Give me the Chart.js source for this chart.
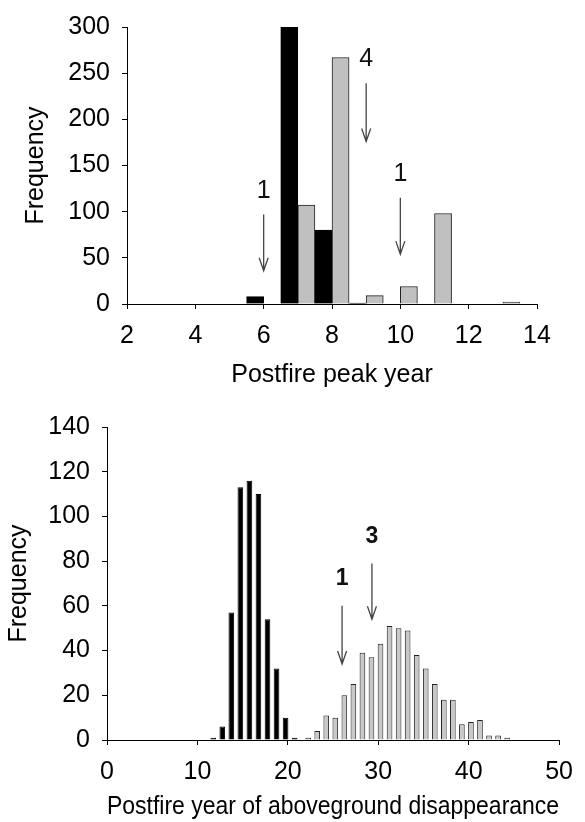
<!DOCTYPE html>
<html>
<head>
<meta charset="utf-8">
<script src="https://cdn.jsdelivr.net/npm/chart.js@4.4.1/dist/chart.umd.min.js"></script>
<style>
  body { margin: 0; background: #fff; }
  #wrap { position: relative; width: 585px; height: 822px; }
  canvas { position: absolute; left: 0; }
</style>
</head>
<body>
<div id="wrap">
  <canvas id="peak" width="585" height="400" style="top:0"></canvas>
  <canvas id="gone" width="585" height="422" style="top:400px"></canvas>
</div>
<script>
// top panel: postfire peak year
const peakYearsBlack = [6, 7, 8, 9];
const peakCountsBlack = [8, 300, 80, 1];
const peakYearsGray = [7, 8, 9, 10, 11, 13];
const peakCountsGray = [107, 267, 9, 19, 98, 2];
const peakXTicks = [2, 4, 6, 8, 10, 12, 14];
const peakYTicks = [0, 50, 100, 150, 200, 250, 300];
const peakArrowX = [6, 9, 10];
const peakArrowText = ['1', '4', '1'];
const peakArrowLabelY = [122, 265, 141];
const peakArrowFrom = [97, 239, 115];
const peakArrowTo = [36, 176, 54];

// bottom panel: postfire year of aboveground disappearance
const goneYearsBlack = [12, 13, 14, 15, 16, 17, 18, 19, 20, 21];
const goneCountsBlack = [1, 6, 57, 113, 116, 110, 54, 32, 10, 1];
const goneYearsGray = [22, 23, 24, 25, 26, 27, 28, 29, 30, 31, 32, 33,
  34, 35, 36, 37, 38, 39, 40, 41, 42, 43, 44];
const goneCountsGray = [1, 4, 11, 10, 20, 25, 39, 37, 43, 51, 50, 49,
  38, 32, 25, 18, 18, 7, 8, 9, 2, 2, 1];
const goneXTicks = [0, 10, 20, 30, 40, 50];
const goneYTicks = [0, 20, 40, 60, 80, 100, 120, 140];
const goneArrowX = [26, 29.3];
const goneArrowText = ['1', '3'];
const goneArrowLabelY = [72, 91];
const goneArrowFrom = [60, 79];
const goneArrowTo = [34, 54];

const FONT = 'Liberation Sans, Arial, sans-serif';

// vertical arrows with a number above them
const arrowPlugin = {
  id: 'arrows',
  afterDatasetsDraw(chart, args, opts) {
    const ctx = chart.ctx;
    const xs = chart.scales.x, ys = chart.scales.y;
    ctx.save();
    ctx.strokeStyle = '#444';
    ctx.fillStyle = '#111';
    ctx.lineWidth = 1.3;
    ctx.font = opts.font;
    ctx.textAlign = 'center';
    ctx.textBaseline = 'middle';
    opts.x.forEach((xv, i) => {
      const px = xs.getPixelForValue(xv);
      const y0 = ys.getPixelForValue(opts.from[i]);
      const y1 = ys.getPixelForValue(opts.to[i]);
      ctx.beginPath();
      ctx.moveTo(px, y0);
      ctx.lineTo(px, y1);
      ctx.moveTo(px - 4.5, y1 - 13);
      ctx.lineTo(px, y1);
      ctx.lineTo(px + 4.5, y1 - 13);
      ctx.stroke();
      ctx.fillText(opts.text[i], px, ys.getPixelForValue(opts.labelY[i]));
    });
    ctx.restore();
  }
};

function points(xs, ys) {
  return xs.map((x, i) => ({ x: x, y: ys[i] }));
}

function axis(ticks, min, max, extra) {
  return Object.assign({
    type: 'linear',
    min: min,
    max: max,
    offset: false,
    afterBuildTicks: s => { s.ticks = ticks.map(v => ({ value: v })); },
    grid: { display: true, offset: false, drawOnChartArea: false, drawTicks: true,
            tickLength: 5, color: '#000', lineWidth: 1 },
    border: { display: true, color: '#000', width: 1 },
    ticks: { color: '#000', font: { family: FONT, size: 25 }, padding: 12, maxRotation: 0 }
  }, extra);
}

function histogram(id, o) {
  new Chart(document.getElementById(id), {
    type: 'bar',
    data: {
      datasets: [{
        data: points(o.xb, o.yb),
        backgroundColor: '#000',
        borderColor: '#000',
        borderWidth: 1
      }, {
        data: points(o.xg, o.yg),
        backgroundColor: o.grayFill,
        borderColor: '#222',
        borderWidth: 1
      }]
    },
    options: {
      responsive: false,
      animation: false,
      events: [],
      layout: { padding: o.padding },
      datasets: { bar: { categoryPercentage: 1, barPercentage: o.barPct } },
      scales: {
        x: axis(o.xTicks, o.xTicks[0], o.xTicks[o.xTicks.length - 1], {
          afterFit: s => { s.height = o.xHeight; },
          title: { display: true, text: o.xTitle, color: '#000',
                   font: { family: FONT, size: 25 }, padding: { top: 0, bottom: o.xTitlePad } }
        }),
        y: axis(o.yTicks, o.yTicks[0], o.yTicks[o.yTicks.length - 1], {
          afterFit: s => { s.width = o.yWidth; },
          title: { display: true, text: 'Frequency', color: '#000',
                   font: { family: FONT, size: 25 }, padding: { top: o.yTitlePad, bottom: 0 } }
        })
      },
      plugins: {
        legend: { display: false },
        tooltip: { enabled: false },
        arrows: o.arrows
      }
    },
    plugins: [arrowPlugin]
  });
}

histogram('peak', {
  xb: peakYearsBlack, yb: peakCountsBlack,
  xg: peakYearsGray, yg: peakCountsGray,
  xTicks: peakXTicks, yTicks: peakYTicks,
  grayFill: '#c0c0c0', barPct: 1,
  padding: { left: 0, right: 48, top: 20, bottom: 0 },
  xHeight: 96, yWidth: 127, xTitlePad: 10, yTitlePad: 21,
  xTitle: 'Postfire peak year',
  arrows: { x: peakArrowX, text: peakArrowText, labelY: peakArrowLabelY,
            from: peakArrowFrom, to: peakArrowTo, font: '25px ' + FONT }
});

histogram('gone', {
  xb: goneYearsBlack, yb: goneCountsBlack,
  xg: goneYearsGray, yg: goneCountsGray,
  xTicks: goneXTicks, yTicks: goneYTicks,
  grayFill: '#c8c8c8', barPct: 1.25,
  padding: { left: 0, right: 20, top: 22, bottom: 0 },
  xHeight: 82, yWidth: 107, xTitlePad: 0, yTitlePad: 4,
  xTitle: 'Postfire year of aboveground disappearance',
  arrows: { x: goneArrowX, text: goneArrowText, labelY: goneArrowLabelY,
            from: goneArrowFrom, to: goneArrowTo, font: 'bold 23px ' + FONT }
});
</script>
</body>
</html>
